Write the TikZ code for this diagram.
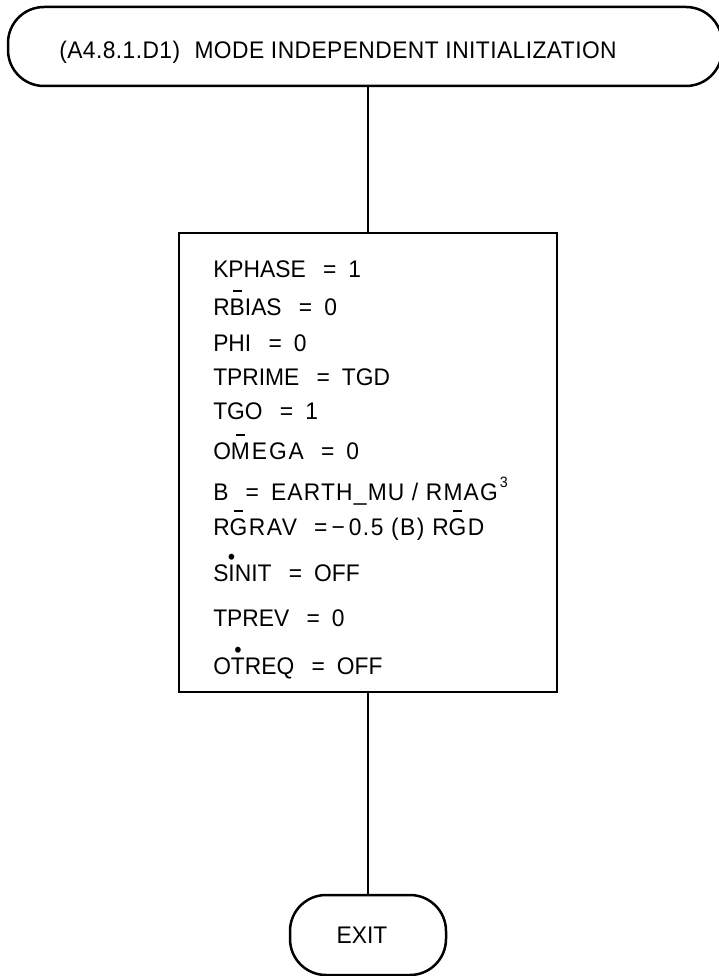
\documentclass[tikz,border=0pt]{standalone}
\usepackage{fontspec}
\setmainfont{Liberation Sans}
\newfontfamily\labfont[FakeStretch=0.95]{Liberation Sans}
\newcommand{\ob}[1]{\setbox0\hbox{#1}\rlap{\hbox to\wd0{\hss\rule[23.5pt]{9.5pt}{2pt}\hss}}#1}
\newcommand{\dt}[1]{\setbox0\hbox{#1}\rlap{\hbox to\wd0{\hss\raisebox{16.5pt}{\fontsize{22}{22}\selectfont\textbullet}\hss}}#1}
\newcommand{\eq}{\hspace{0.72em}=\hspace{0.5em}}
\begin{document}
\begin{tikzpicture}[x=1pt,y=-1pt,line width=2.5pt,
  txt/.style={font=\labfont\fontsize{24}{28}\selectfont,inner sep=0pt,anchor=base west},
  term/.style={draw,rounded corners=36pt,inner sep=0pt},
  procbox/.style={draw,inner sep=0pt}]
\useasboundingbox (0,0) rectangle (719,976);
\node[term,minimum width=714pt,minimum height=79pt] (start) at (365,46.5) {};
\node[txt] (title) at (58,59) {\addfontfeature{LetterSpace=1.8}(A4.8.1.D1)\hspace{0.6em}MODE INDEPENDENT INITIALIZATION};
\node[procbox,minimum width=378pt,minimum height=459pt] (box) at (368,462.5) {};
\node[term,minimum width=156pt,minimum height=80pt,font=\labfont\fontsize{24}{28}\selectfont] (exit) at (368,935) {\hspace*{-12pt}EXIT};
\coordinate (lx) at (368,0);
\draw (start.south -| lx) -- (box.north -| lx);
\draw (box.south -| lx) -- (exit.north -| lx);
\node[txt] (l1) at (212,277) {KPHASE\eq 1};
\node[txt] (l2) at (212,315) {R\ob{B}IAS\eq 0};
\node[txt] (l3) at (212,351) {PHI\eq 0};
\node[txt] (l4) at (212,385) {TPRIME\eq TGD};
\node[txt] (l5) at (212,419) {TGO\eq 1};
\node[txt] (l6) at (212,459) {\addfontfeature{LetterSpace=8}O\ob{M}EGA\eq 0};
\node[txt] (l7) at (212,500) {\addfontfeature{LetterSpace=5}B\eq EARTH\_MU / RMAG\hspace{2pt}\raisebox{13pt}{\fontsize{15}{15}\selectfont 3}};
\node[txt] (l8) at (212,535) {\addfontfeature{LetterSpace=6}R\ob{G}RAV\hspace{0.72em}=\,−\,0.5 (B) R\ob{G}D};
\node[txt] (l9) at (212,581) {S\dt{I}NIT\eq OFF};
\node[txt] (l10) at (212,626) {TPREV\eq 0};
\node[txt] (l11) at (212,674) {O\dt{T}REQ\eq OFF};
\end{tikzpicture}
\end{document}
